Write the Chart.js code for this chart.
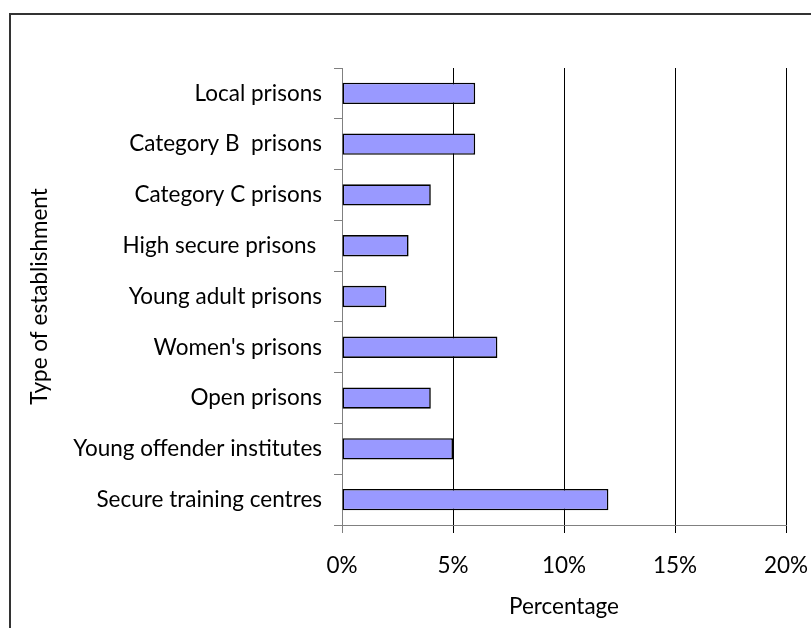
<!DOCTYPE html>
<html>
<head>
<meta charset="utf-8">
<script src="https://cdn.jsdelivr.net/npm/chart.js@4"></script>
<style>
  html, body { margin: 0; padding: 0; background: #fff; overflow: hidden; }
  #frame { position: absolute; left: 9px; top: 13px; width: 900px; height: 700px; border: 2px solid #333; }
  #wrap { position: absolute; left: 0; top: 0; width: 811px; height: 628px; }
</style>
</head>
<body>
<div id="frame"></div>
<div id="wrap"><canvas id="establishmentChart" width="811" height="628"></canvas></div>
<script>
// Establishment types, top to bottom
const categories = [
    'Local prisons',
    'Category B  prisons',
    'Category C prisons',
    'High secure prisons ',
    'Young adult prisons',
    "Women's prisons",
    'Open prisons',
    'Young offender institutes',
    'Secure training centres'
];
const percentages = [6, 6, 4, 3, 2, 7, 4, 5, 12];
const xTicks = [0, 5, 10, 15, 20];

const FONT = 'Lato, "Open Sans", sans-serif';
const FONT_SIZE = 22.5;

document.addEventListener('DOMContentLoaded', function () {
    const ctx = document.getElementById('establishmentChart');
    new Chart(ctx, {
        type: 'bar',
        data: {
            labels: categories,
            datasets: [{
                data: percentages,
                backgroundColor: '#9999FF',
                borderColor: '#000',
                borderWidth: 1.6,
                borderSkipped: false,
                categoryPercentage: 1,
                barPercentage: 0.42
            }]
        },
        options: {
            indexAxis: 'y',
            responsive: false,
            animation: false,
            layout: { padding: { left: 20, top: 68, right: 25, bottom: 8 } },
            plugins: { legend: { display: false }, tooltip: { enabled: false } },
            scales: {
                x: {
                    min: xTicks[0],
                    max: xTicks[xTicks.length - 1],
                    afterBuildTicks: s => { s.ticks = xTicks.map(v => ({ value: v })); },
                    // fixed height, and let the end labels overhang the plot edges
                    afterFit: s => {
                        s.height = 95;
                        s.paddingLeft = 0;
                        s.paddingRight = 0;
                    },
                    grid: {
                        color: c => c.tick && c.tick.value === 0 ? '#808080' : '#000',
                        lineWidth: 1,
                        tickLength: 8
                    },
                    border: { color: '#808080', width: 1 },
                    ticks: {
                        color: '#000',
                        padding: 19,
                        font: { family: FONT, size: FONT_SIZE },
                        callback: v => v + '%'
                    },
                    title: {
                        display: true,
                        text: 'Percentage',
                        color: '#000',
                        font: { family: FONT, size: FONT_SIZE },
                        padding: { top: 0, bottom: 0 }
                    }
                },
                y: {
                    afterFit: s => { s.width = 322; },
                    grid: {
                        drawOnChartArea: false,
                        offset: true,
                        color: '#808080',
                        tickLength: 8
                    },
                    border: { color: '#808080', width: 1 },
                    ticks: {
                        color: '#000',
                        padding: 12,
                        font: { family: FONT, size: FONT_SIZE }
                    },
                    title: {
                        display: true,
                        text: 'Type of establishment',
                        color: '#000',
                        font: { family: FONT, size: FONT_SIZE },
                        padding: { top: 6, bottom: 0 }
                    }
                }
            }
        }
    });
});
</script>
</body>
</html>
